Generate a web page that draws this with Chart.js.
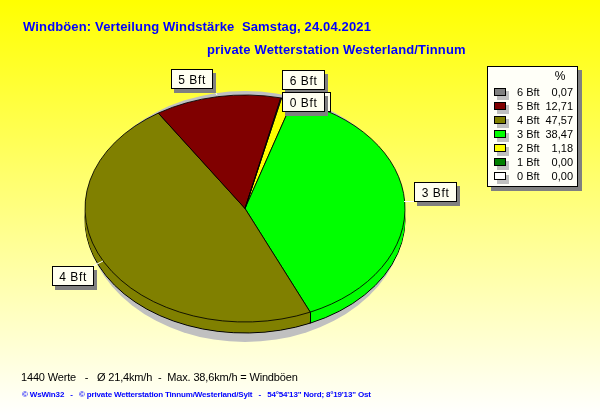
<!DOCTYPE html>
<html><head><meta charset="utf-8">
<style>html,body{margin:0;padding:0;background:#fff}canvas{display:block}</style>
<script src="https://cdn.jsdelivr.net/npm/chart.js@4"></script>
</head><body><canvas id="c" width="600" height="415"></canvas>
<script>
const categories = ["6 Bft","5 Bft","4 Bft","3 Bft","2 Bft","1 Bft","0 Bft"];
const percentages = [0.07,12.71,47.57,38.47,1.18,0.00,0.00];
const sliceColors = ["#808080","#800000","#808000","#00ff00","#ffff00","#008000","#ffffff"];
const titleText = "Windböen: Verteilung Windstärke  Samstag, 24.04.2021";
const subtitleText = "private Wetterstation Westerland/Tinnum";
const statsText = "1440 Werte   -   Ø 21,4km/h  -  Max. 38,6km/h = Windböen";
const footerText = "© WsWin32   -   © private Wetterstation Tinnum/Westerland/Sylt   -   54°54'13\" Nord; 8°19'13\" Ost";

const SQUASH = 113.5/160, DEPTH = 11;
const ARIAL = '"Liberation Sans", Arial, sans-serif';

function squash(ctx, arc){ ctx.translate(arc.x,arc.y); ctx.scale(1,SQUASH); ctx.translate(-arc.x,-arc.y); }
function sectorPath(ctx, arc, dy){
  ctx.save(); ctx.translate(0,dy); squash(ctx,arc);
  ctx.beginPath(); ctx.moveTo(arc.x,arc.y);
  ctx.arc(arc.x,arc.y,arc.outerRadius,arc.startAngle,arc.endAngle);
  ctx.closePath(); ctx.restore();
}
function text(ctx,s,x,y,font,color,align,spacing){
  ctx.font=font; ctx.fillStyle=color; ctx.textAlign=align||'left'; ctx.textBaseline='alphabetic';
  ctx.letterSpacing=spacing||'0px'; ctx.fillText(s,x,y); ctx.letterSpacing='0px';
}
function box(ctx,x,y,w,h,fill,shadow,dx,dy){
  if(shadow){ctx.fillStyle=shadow;ctx.fillRect(x+dx,y+dy,w,h);}
  ctx.fillStyle=fill;ctx.fillRect(x,y,w,h);
  ctx.strokeStyle='#000';ctx.lineWidth=1;ctx.strokeRect(x+.5,y+.5,w-1,h-1);
}
function callout(ctx,label,x,y,w,h){
  box(ctx,x,y,w,h,'#fffff0','#808080',3,4);
  text(ctx,label,x+w/2,y+h-5,'12px '+ARIAL,'#000','center','0.6px');
}

const pie3d = {
  id:'pie3d',
  beforeDraw(chart){
    const {ctx,width,height}=chart;
    const g=ctx.createLinearGradient(0,0,0,height);
    g.addColorStop(0,'#ffff00');g.addColorStop(1,'#ffffff');
    ctx.fillStyle=g;ctx.fillRect(0,0,width,height);
  },
  beforeDatasetDraw(chart,args){
    const {ctx}=chart; const arcs=args.meta.data;
    const a0=arcs[0];
    ctx.fillStyle='#c0c0c0';
    ctx.beginPath();ctx.ellipse(a0.x,216.5,a0.outerRadius,125.5,0,0,Math.PI*2);ctx.fill();
    arcs.forEach(a=>{ if(a.circumference<=0) return;
      sectorPath(ctx,a,DEPTH);ctx.fillStyle=a.options.backgroundColor;ctx.fill();
      ctx.strokeStyle='#000';ctx.lineWidth=1;ctx.stroke();});
    for(let d=DEPTH-1;d>=1;d--){
      arcs.forEach(a=>{ if(a.circumference<=0) return;
        sectorPath(ctx,a,d);ctx.fillStyle=a.options.backgroundColor;ctx.fill();});
    }
    arcs.forEach(a=>{ if(a.circumference<=0) return;
      const x=a.x+a.outerRadius*Math.cos(a.endAngle), y=a.y+a.outerRadius*SQUASH*Math.sin(a.endAngle);
      if(Math.sin(a.endAngle)>0){ctx.strokeStyle='#000';ctx.lineWidth=1;ctx.beginPath();
        ctx.moveTo(Math.round(x)+.5,y);ctx.lineTo(Math.round(x)+.5,y+DEPTH);ctx.stroke();}
    });
    ctx.save(); squash(ctx,a0);
  },
  afterDatasetDraw(chart){ chart.ctx.restore(); },
  afterDraw(chart){
    const {ctx}=chart;
    ctx.strokeStyle='#fff';ctx.lineWidth=1;
    [[214,90,217,95],[404,201.5,414,201.5],[93,266,103,261]].forEach(l=>{
      ctx.beginPath();ctx.moveTo(l[0],l[1]);ctx.lineTo(l[2],l[3]);ctx.stroke();});
    callout(ctx,categories[1],171,69,42,20);
    callout(ctx,categories[0],282,70,43,20);
    box(ctx,288,92,43,20,'#fffff0');
    callout(ctx,categories[6],282,92,43,20);
    callout(ctx,categories[3],414,182,43,20);
    callout(ctx,categories[2],52,266,42,20);

    const bold='bold 13px '+ARIAL;
    text(ctx,titleText,23,31,bold,'#0000ff','left','0.14px');
    text(ctx,subtitleText,207,54,bold,'#0000ff','left','0.15px');
    text(ctx,statsText,21,381,'11px '+ARIAL,'#000','left','-0.16px');
    text(ctx,footerText,22,397,'bold 8px '+ARIAL,'#0000ff','left','-0.16px');

    box(ctx,487,66,91,121,'#fffff8','#808080',4,4);
    text(ctx,'%',560,80,'12px '+ARIAL,'#000','center');
    categories.forEach((c,i)=>{
      const y=92+i*14;
      ctx.fillStyle='#c0c0c0';ctx.fillRect(497,y-1,12,9);
      box(ctx,494,y-4,12,8,sliceColors[i]);
      text(ctx,c,517,y+4,'11px '+ARIAL,'#000');
      text(ctx,percentages[i].toFixed(2).replace('.',','),573,y+4,'11px '+ARIAL,'#000','right');
    });
  }
};

// Legend order runs counter-clockwise on the pie, so the drawn order is reversed.
new Chart(document.getElementById('c'),{
  type:'pie',
  data:{labels:[...categories].reverse(),datasets:[{
    data:[...percentages].reverse(),
    backgroundColor:[...sliceColors].reverse(),
    borderColor:'#000',borderWidth:1,clip:false
  }]},
  options:{
    responsive:false,animation:false,radius:160,rotation:13.2,
    layout:{padding:{left:85,right:195,top:48.5,bottom:46.5}},
    plugins:{legend:{display:false},tooltip:{enabled:false},title:{display:false}}
  },
  plugins:[pie3d]
});
</script></body></html>
